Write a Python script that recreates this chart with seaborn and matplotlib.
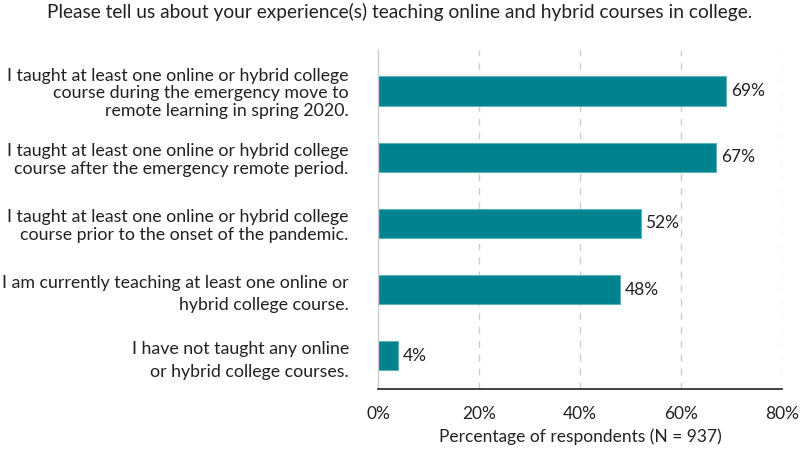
import pandas as pd
import seaborn as sns
import matplotlib.pyplot as plt

categories = [
    'I taught at least one online or hybrid college\ncourse during the emergency move to\nremote learning in spring 2020.',
    'I taught at least one online or hybrid college\ncourse after the emergency remote period.',
    'I taught at least one online or hybrid college\ncourse prior to the onset of the pandemic.',
    'I am currently teaching at least one online or\nhybrid college course.',
    'I have not taught any online\nor hybrid college courses.',
]
values = [69, 67, 52, 48, 4]
xticks = [0, 20, 40, 60, 80]

df = pd.DataFrame({'label': categories, 'pct': values})

sns.set_style('white')
plt.rcParams['font.family'] = ['Lato', 'DejaVu Sans']

fig = plt.figure(figsize=(8, 4.5), dpi=100)
ax = fig.add_axes([0.4725, 0.1356, 0.505, 0.7534])

sns.barplot(data=df, x='pct', y='label', color='#00838F', width=0.44,
            edgecolor='#5FB3BA', linewidth=0.8, saturation=1, ax=ax)

for i, v in enumerate(values):
    ax.text(v + 0.9, i, f'{v}%', va='center', ha='left', fontsize=12.5, color='#222222')

ax.set_xlim(0, 80)
ax.set_ylim(4.5, -0.62)
ax.set_xticks(xticks)
ax.set_xticklabels([f'{t}%' for t in xticks], fontsize=12.5, color='#222222')
ax.tick_params(axis='x', length=0, pad=12)
ax.tick_params(axis='y', length=0, pad=21)
# the last two labels are set a little looser in the original
spacing = [1.15, 1.15, 1.15, 1.45, 1.5]
for lab, ls in zip(ax.get_yticklabels(), spacing):
    lab.set_fontsize(12.8)
    lab.set_color('#222222')
    lab.set_horizontalalignment('right')
    lab.set_multialignment('right')
    lab.set_linespacing(ls)

for t in xticks[1:]:
    ax.axvline(t, color='#CCCCCC', linestyle=(0, (5, 5)), linewidth=1, zorder=0)

ax.set_ylabel('')
ax.set_xlabel('Percentage of respondents (N = 937)', fontsize=12.5, color='#222222', labelpad=5)

sns.despine(ax=ax, top=True, right=True)
ax.spines['left'].set_color('#CCCCCC')
ax.spines['left'].set_linewidth(1)
ax.spines['bottom'].set_color('#222222')
ax.spines['bottom'].set_linewidth(1.2)

fig.text(0.5, 0.973, 'Please tell us about your experience(s) teaching online and hybrid courses in college.',
         ha='center', va='center', fontsize=13.8, color='#222222')

fig.savefig('out.png', dpi=100)
